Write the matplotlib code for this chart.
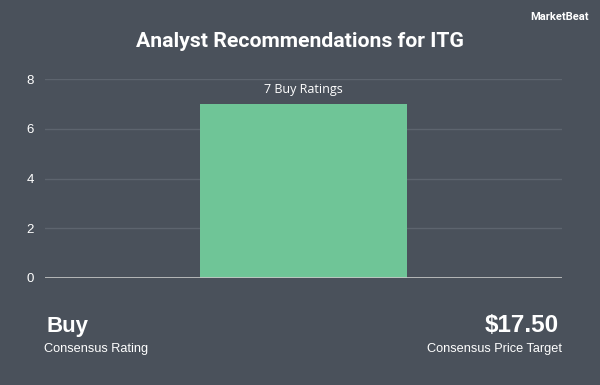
import matplotlib
matplotlib.use("Agg")
import matplotlib.pyplot as plt

# data
categories = ["Buy Ratings"]
counts = [7]
bar_labels = ["7 Buy Ratings"]
y_ticks = [0, 2, 4, 6, 8]
consensus_rating = "Buy"
price_target = "$17.50"

bg = "#4a515b"
bar_color = "#6fc597"
grid_color = "#5d646e"

fig = plt.figure(figsize=(6, 3.85), dpi=100, facecolor=bg)

W, H = 600, 385
ax = fig.add_axes([45 / W, (H - 278) / H, 517 / W, 199 / H])
ax.set_facecolor(bg)

x = list(range(len(categories)))
bars = ax.bar(x, counts, width=0.4, color=bar_color, zorder=3)
ax.set_xlim(-0.5, len(categories) - 0.5)
ax.set_ylim(0, 8)
ax.set_yticks(y_ticks)
ax.set_xticks([])

# value label above each bar
for b, lab in zip(bars, bar_labels):
    ax.annotate(lab, (b.get_x() + b.get_width() / 2, b.get_height()),
                xytext=(0, 8), textcoords="offset points",
                ha="center", va="baseline", color="white", fontsize=9,
                family="Open Sans")

for t in y_ticks:
    ax.axhline(t, color="#c8c8c8" if t == 0 else grid_color,
               lw=1.2 if t == 0 else 1, zorder=4 if t == 0 else 1)

for s in ax.spines.values():
    s.set_visible(False)
ax.tick_params(axis="y", length=0, pad=8, labelcolor="white", labelsize=9.5)
for lbl in ax.get_yticklabels():
    lbl.set_family("Liberation Sans")

fig.text(0.5, 1 - 47 / H, "Analyst Recommendations for ITG", ha="center",
         va="baseline", color="white", fontsize=15.3, fontweight="bold",
         family="Roboto")
fig.text(589 / W, 1 - 17 / H, "MarketBeat", ha="right", va="center",
         color="white", fontsize=8, fontweight="bold", family="Roboto")

# consensus summary under the chart
fig.text(46 / W, 1 - 332 / H, consensus_rating, ha="left", va="baseline",
         color="white", fontsize=16, fontweight="bold",
         family="Liberation Sans")
fig.text(44 / W, 1 - 352 / H, "Consensus Rating", ha="left", va="baseline",
         color="white", fontsize=9.2, family="Liberation Sans")
fig.text(559 / W, 1 - 332 / H, price_target, ha="right", va="baseline",
         color="white", fontsize=17.5, fontweight="bold",
         family="Liberation Sans")
fig.text(562 / W, 1 - 352 / H, "Consensus Price Target", ha="right",
         va="baseline", color="white", fontsize=9.2,
         family="Liberation Sans")

fig.savefig("out.png", dpi=100, facecolor=bg)
